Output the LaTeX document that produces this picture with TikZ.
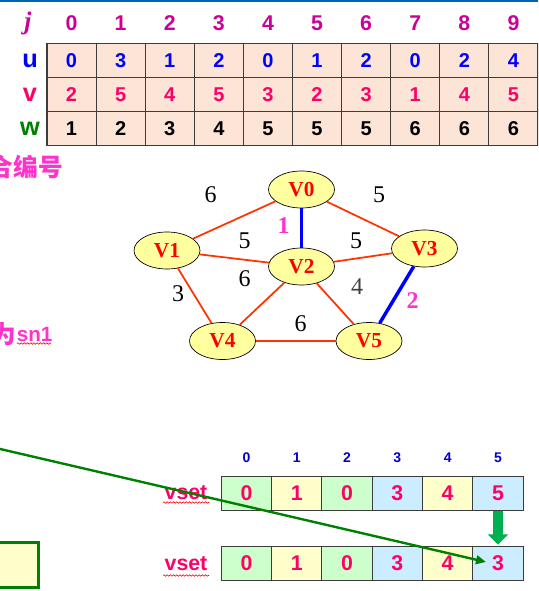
\documentclass[tikz,border=0pt]{standalone}
\usepackage{fontspec}
\setmainfont{Liberation Serif}
\newfontfamily\sansf{Liberation Sans}
\newfontfamily\cjkf{Noto Sans CJK SC}
\usetikzlibrary{shapes.geometric,decorations.pathmorphing,arrows.meta}

\definecolor{topblue}{RGB}{0,102,179}
\definecolor{peach}{RGB}{252,228,214}
\definecolor{cellline}{RGB}{60,60,60}
\definecolor{idxmag}{RGB}{204,0,153}
\definecolor{ublue}{RGB}{0,0,255}
\definecolor{vpink}{RGB}{255,0,102}
\definecolor{wgreen}{RGB}{0,128,0}
\definecolor{edgered}{RGB}{255,51,0}
\definecolor{vfill}{RGB}{255,255,160}
\definecolor{hot}{RGB}{255,51,204}
\definecolor{cgreen}{RGB}{204,255,204}
\definecolor{cyellow}{RGB}{255,255,204}
\definecolor{cblue}{RGB}{204,236,255}
\definecolor{arrowgreen}{RGB}{0,176,80}
\definecolor{idxblue}{RGB}{0,0,204}

\begin{document}
\begin{tikzpicture}[x=0.75pt,y=-0.75pt,
  tcell/.style={draw=cellline, fill=peach, line width=0.8pt,
    minimum width=36.8pt, minimum height=25.7pt, inner sep=0pt,
    font=\sansf\bfseries\fontsize{15}{15}\selectfont},
  hdr/.style={text=idxmag, inner sep=0pt,
    font=\sansf\bfseries\fontsize{16}{16}\selectfont},
  rowlab/.style={inner sep=0pt, font=\sansf\bfseries\fontsize{19}{19}\selectfont},
  vcell/.style={draw=cellline, line width=0.8pt, text=vpink,
    minimum width=37.7pt, minimum height=25.3pt, inner sep=0pt,
    font=\sansf\bfseries\fontsize{16}{16}\selectfont},
  idx/.style={text=idxblue, inner sep=0pt,
    font=\sansf\bfseries\fontsize{10.5}{10.5}\selectfont},
  vsetlab/.style={text=vpink, inner sep=0pt,
    font=\sansf\bfseries\fontsize{16}{16}\selectfont},
  gnode/.style={ellipse, draw=black, line width=0.5pt, fill=vfill,
    minimum width=49.5pt, minimum height=27.75pt, inner sep=0pt,
    text=red, font=\bfseries\fontsize{16}{16}\selectfont},
  wlab/.style={inner sep=0pt, font=\fontsize{18}{18}\selectfont},
  ordlab/.style={inner sep=0pt, text=hot, font=\bfseries\fontsize{18}{18}\selectfont},
  redge/.style={edgered, line width=1.3pt},
  bedge/.style={blue, line width=2.6pt},
  squig/.style={red, line width=0.45pt,
    decorate, decoration={snake, amplitude=0.55pt, segment length=2.4pt}},
  hotcjk/.style={text=hot, inner sep=0pt, font=\cjkf\bfseries\fontsize{18.5}{18.5}\selectfont}
]
\useasboundingbox (0,0) rectangle (538,591);
\clip (0,0) rectangle (538,591);

% rule along the top edge
\draw[topblue, line width=1.5pt] (0,0.8) -- (538,0.8);

% ---------- edge table: j / u / v / w ----------
\node[inner sep=0pt, text=idxmag, font=\bfseries\itshape\fontsize{19}{19}\selectfont] (jl) at (28,23) {j};
\node[rowlab, text=ublue]  (ul) at (30,61) {u};
\node[rowlab, text=vpink]  (vl) at (30,95) {v};
\node[rowlab, text=wgreen] (wl) at (30,129) {w};

\foreach \i in {0,...,9}
  \node[hdr] (j\i) at ({47+49.1*(\i+0.5)},23.3) {\i};
\foreach \val [count=\i from 0] in {0,3,1,2,0,1,2,0,2,4}
  \node[tcell, text=ublue] (u\i) at ({47+49.1*(\i+0.5)},60.2) {\val};
\foreach \val [count=\i from 0] in {2,5,4,5,3,2,3,1,4,5}
  \node[tcell, text=vpink] (v\i) at ({47+49.1*(\i+0.5)},94.5) {\val};
\foreach \val [count=\i from 0] in {1,2,3,4,5,5,5,6,6,6}
  \node[tcell, text=black] (w\i) at ({47+49.1*(\i+0.5)},128.8) {\val};

% ---------- side notes ----------
\node[hotcjk, anchor=east] (n1) at (63,167) {合编号};
\node[hotcjk, anchor=east] (n2) at (16,334.5) {为};
\node[inner sep=0pt, text=hot, anchor=west,
  font=\sansf\bfseries\fontsize{15.5}{15.5}\selectfont] (n3) at (16.5,334.5) {sn1};
\draw[squig] (17,343.5) -- (51,343.5);

% ---------- graph ----------
\node[gnode] (V0) at (301.5,189.5) {V0};
\node[gnode] (V1) at (167,250.5) {V1};
\node[gnode] (V2) at (301.5,266.5) {V2};
\node[gnode] (V3) at (424.5,248.5) {V3};
\node[gnode] (V4) at (222.5,341) {V4};
\node[gnode] (V5) at (369,341) {V5};

\draw[redge] (V0) -- (V1);
\draw[redge] (V0) -- (V3);
\draw[redge] (V1) -- (V2);
\draw[redge] (V2) -- (V3);
\draw[redge] (V1) -- (V4);
\draw[redge] (V2) -- (V4);
\draw[redge] (V2) -- (V5);
\draw[redge] (V4.east) -- (V5.west);
\draw[bedge] (V0) -- (V2);
\draw[bedge] (V3) -- (V5);

\node[wlab] (w01) at (210.5,195) {6};
\node[wlab] (w03) at (379,195) {5};
\node[wlab] (w12) at (244.5,241) {5};
\node[wlab] (w23) at (356,241) {5};
\node[wlab] (w24) at (244.5,279) {6};
\node[wlab] (w14) at (178,294) {3};
\node[wlab, text=black!75] (w25) at (357,287) {4};
\node[wlab] (w45) at (300.5,324) {6};
\node[ordlab] (o1) at (283.5,225.5) {1};
\node[ordlab] (o2) at (412.5,301) {2};

% ---------- vset arrays ----------
\foreach \i in {0,...,5}
  \node[idx] (k\i) at ({221.3+50.3*(\i+0.5)},457.5) {\i};
\foreach \val/\fc [count=\i from 0] in {0/cgreen,1/cyellow,0/cgreen,3/cblue,4/cyellow,5/cblue}
  \node[vcell, fill=\fc] (t\i) at ({221.3+50.3*(\i+0.5)},493.2) {\val};
\foreach \val/\fc [count=\i from 0] in {0/cgreen,1/cyellow,0/cgreen,3/cblue,4/cyellow,3/cblue}
  \node[vcell, fill=\fc] (b\i) at ({221.3+50.3*(\i+0.5)},563.3) {\val};

\node[vsetlab] (vs1) at (186,493) {vset};
\draw[squig] (163,502.5) -- (209,502.5);
\node[vsetlab] (vs2) at (186,564) {vset};
\draw[squig] (163,575.5) -- (209,575.5);

% block arrow from the old array to the new one
\draw[arrowgreen, line width=7.5pt, shorten >=1pt,
  -{Triangle[length=7.7pt,width=15pt]}] (t5.south) -- (b5.north);

% box at the lower left
\node[draw=wgreen, line width=2.2pt, fill=cyellow, minimum width=40pt,
  minimum height=33.5pt, inner sep=0pt] (box) at (12,565) {};

% long pointer into the last cell
\coordinate (gstart) at (-2,448.5);
\coordinate (gend) at (486,562);
\draw[wgreen, line width=1.8pt, -{Triangle[length=7.5pt,width=6.5pt]}] (gstart) -- (gend);
\end{tikzpicture}
\end{document}
